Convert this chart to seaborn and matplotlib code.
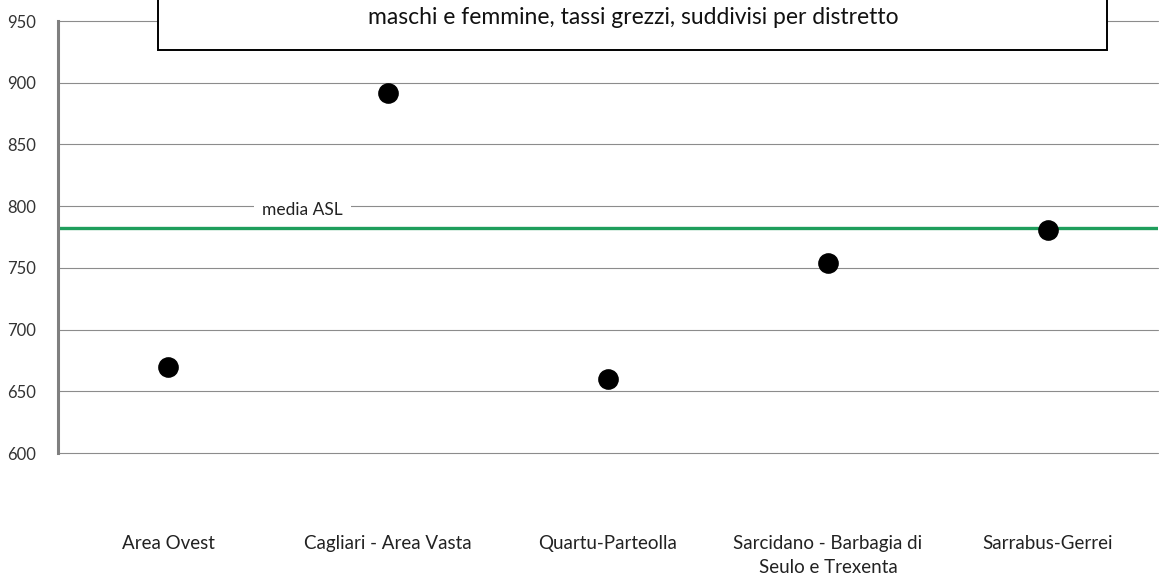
import matplotlib
matplotlib.use("Agg")
import matplotlib.pyplot as plt
import seaborn as sns
import pandas as pd
from matplotlib.patches import Rectangle

categories = ["Area Ovest", "Cagliari - Area Vasta", "Quartu-Parteolla",
              "Sarcidano - Barbagia di\nSeulo e Trexenta", "Sarrabus-Gerrei"]
values = [670, 892, 660, 754, 781]
media_asl = 782
yticks = [600, 650, 700, 750, 800, 850, 900, 950]
title_line2 = "maschi e femmine, tassi grezzi, suddivisi per distretto"

sns.set_theme(style="white")
plt.rcParams['font.family'] = ['Lato', 'DejaVu Sans']

df = pd.DataFrame({"distretto": categories, "tasso": values})

fig = plt.figure(figsize=(11.59, 5.86), dpi=100)
ax = fig.add_axes([58/1159, 1 - 453/586, 1100/1159, 432/586])

ax.set_ylim(600, 950)
ax.set_yticks(yticks)
for y in yticks:
    ax.axhline(y, color="#8c8c8c", lw=0.8, zorder=0, clip_on=False)

ax.axhline(media_asl, color="#1f9e5c", lw=2.4, zorder=2)

sns.scatterplot(data=df, x="distretto", y="tasso", ax=ax, color="black",
                s=190, edgecolor="black", zorder=3, legend=False)
ax.set_xlim(-0.5, len(categories) - 0.5)

ax.text(0.61, 797, "media ASL", fontsize=12.5, color="#222222", ha="center", va="center",
        zorder=4, bbox=dict(facecolor="white", edgecolor="none", pad=6))

for s in ["top", "right", "bottom"]:
    ax.spines[s].set_visible(False)
ax.spines["left"].set_color("#7f7f7f")
ax.spines["left"].set_linewidth(2.2)

ax.set_xlabel("")
ax.set_ylabel("")
ax.tick_params(axis="y", labelsize=12, labelcolor="#333333", pad=16, length=0)
ax.tick_params(axis="x", labelsize=13.5, labelcolor="#222222", pad=59, length=0)
for lab in ax.get_xticklabels():
    lab.set_linespacing(1.5)

# title box (partially cut off at the top)
rect = Rectangle((158/1159, 1 - 50/586), (1107 - 158)/1159, 80/586,
                 transform=fig.transFigure, facecolor="white", edgecolor="black",
                 lw=1.4, zorder=5)
fig.patches.append(rect)
fig.text(633/1159, 1 - 17/586, title_line2, ha="center", va="center",
         fontsize=16.5, color="#111111", zorder=6)

fig.savefig("out.png", dpi=100)
